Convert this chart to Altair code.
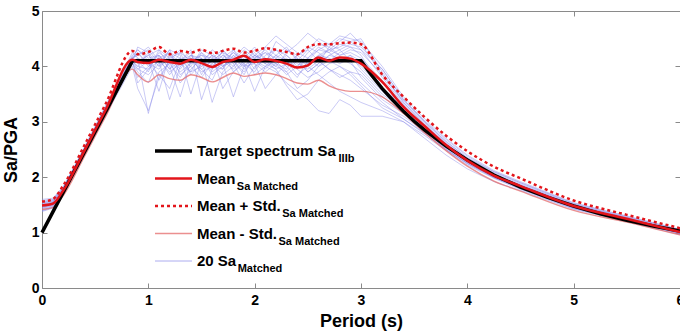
import altair as alt
import pandas as pd

# ---------------- data ----------------
periods = [0, 0.1, 0.2, 0.4, 0.6, 0.85, 0.9, 1.0, 1.1, 1.2, 1.3, 1.4, 1.5, 1.6, 1.7,
           1.8, 1.9, 2.0, 2.1, 2.2, 2.3, 2.4, 2.5, 2.6, 2.7, 2.8, 2.9, 3.0,
           3.2, 3.4, 3.6, 3.8, 4.0, 4.25, 4.5, 5.0, 5.5, 6.0]

target_periods = [0, 0.85, 3.0, 3.1, 3.2, 3.3, 3.4, 3.5, 3.6, 3.8, 4.0, 4.25, 4.5,
                  4.75, 5.0, 5.25, 5.5, 5.75, 6.0]
target_values = [1.0, 4.1, 4.1, 3.84, 3.60, 3.39, 3.19, 3.01, 2.85, 2.56, 2.31, 2.04,
                 1.82, 1.64, 1.48, 1.34, 1.22, 1.12, 1.03]

mean_values = [1.49, 1.52, 1.76, 2.48, 3.22, 4.12,
               4.08, 4.06, 4.12, 4.08, 4.05, 4.12, 4.06, 3.99, 4.08, 4.12, 4.19,
               4.08, 4.13, 4.10, 4.05, 3.98, 4.02, 4.16, 4.10, 4.16, 4.14, 4.05,
               3.72, 3.27, 2.92, 2.58, 2.30, 2.03, 1.84, 1.48, 1.25, 1.01]
plus_values = [1.56, 1.60, 1.85, 2.58, 3.33, 4.28,
               4.22, 4.26, 4.35, 4.22, 4.28, 4.25, 4.30, 4.24, 4.28, 4.32, 4.25,
               4.28, 4.33, 4.30, 4.26, 4.22, 4.35, 4.40, 4.40, 4.42, 4.43, 4.40,
               3.85, 3.45, 3.08, 2.75, 2.47, 2.19, 1.98, 1.58, 1.32, 1.08]
minus_values = [1.42, 1.45, 1.67, 2.38, 3.10, 3.95,
                3.85, 3.72, 3.85, 3.78, 3.75, 3.85, 3.80, 3.72, 3.80, 3.88, 3.82,
                3.85, 3.88, 3.85, 3.78, 3.70, 3.68, 3.75, 3.65, 3.58, 3.55, 3.55,
                3.45, 3.15, 2.80, 2.48, 2.20, 1.93, 1.75, 1.40, 1.19, 0.96]

run_01 = [1.45, 1.50, 1.72, 2.42, 3.15, 4.05, 3.90, 3.70, 4.20, 3.95, 4.10, 4.25, 3.85, 4.15, 4.30, 4.05, 4.20, 3.95, 4.35, 4.20, 4.00, 3.80, 4.10, 4.30, 4.25, 4.40, 4.35, 4.20, 3.60, 3.30, 2.85, 2.50, 2.25, 2.00, 1.80, 1.45, 1.22, 0.98]
run_02 = [1.55, 1.58, 1.80, 2.52, 3.28, 4.20, 4.30, 4.10, 3.55, 4.20, 4.05, 3.90, 4.25, 4.00, 3.95, 4.30, 4.10, 4.20, 4.05, 4.45, 4.30, 4.15, 3.90, 4.05, 4.35, 4.50, 4.45, 4.30, 3.95, 3.40, 3.00, 2.65, 2.35, 2.10, 1.90, 1.52, 1.28, 1.05]
run_03 = [1.40, 1.46, 1.70, 2.40, 3.12, 4.00, 3.60, 3.20, 3.80, 4.10, 3.90, 4.05, 4.15, 3.85, 4.00, 4.20, 3.95, 4.10, 4.00, 3.90, 3.70, 3.55, 3.40, 3.20, 3.15, 3.40, 3.30, 3.10, 3.10, 3.00, 2.70, 2.40, 2.15, 1.92, 1.76, 1.42, 1.20, 0.96]
run_04 = [1.50, 1.54, 1.78, 2.50, 3.25, 4.15, 4.20, 4.35, 4.10, 3.40, 4.00, 4.20, 3.95, 4.10, 4.25, 3.90, 4.05, 4.30, 4.15, 4.00, 4.25, 4.40, 4.60, 4.45, 4.30, 4.35, 4.45, 4.50, 3.90, 3.35, 2.95, 2.60, 2.30, 2.05, 1.86, 1.50, 1.27, 1.03]
run_05 = [1.60, 1.62, 1.82, 2.45, 3.20, 4.10, 4.00, 3.95, 4.25, 4.10, 3.70, 3.95, 4.15, 3.35, 3.90, 4.10, 4.20, 3.85, 4.00, 4.10, 4.15, 3.95, 3.80, 3.90, 4.05, 4.10, 4.20, 3.95, 3.55, 3.20, 2.88, 2.55, 2.28, 2.00, 1.82, 1.46, 1.24, 1.00]
run_06 = [1.38, 1.44, 1.68, 2.44, 3.18, 4.08, 4.35, 4.25, 4.00, 4.30, 4.20, 3.50, 4.10, 4.25, 4.00, 4.15, 4.35, 4.20, 4.10, 4.05, 3.95, 4.20, 4.35, 4.25, 4.10, 4.00, 3.90, 3.70, 3.35, 3.05, 2.80, 2.50, 2.25, 2.00, 1.80, 1.44, 1.22, 0.99]
run_07 = [1.52, 1.55, 1.79, 2.55, 3.30, 4.25, 4.15, 3.15, 3.90, 4.05, 4.15, 4.00, 3.80, 4.05, 4.20, 4.10, 3.90, 4.15, 4.30, 4.10, 3.90, 3.60, 3.75, 4.00, 4.20, 4.30, 4.10, 3.80, 3.40, 3.15, 2.85, 2.55, 2.28, 2.02, 1.84, 1.48, 1.25, 1.01]
run_08 = [1.47, 1.50, 1.74, 2.47, 3.21, 4.12, 4.05, 4.20, 4.30, 4.00, 3.45, 4.10, 4.20, 4.05, 3.85, 4.00, 4.25, 4.10, 3.95, 4.15, 4.30, 4.20, 4.05, 4.15, 4.30, 4.20, 4.30, 4.25, 3.85, 3.35, 2.98, 2.62, 2.33, 2.06, 1.86, 1.50, 1.26, 1.02]
run_09 = [1.43, 1.48, 1.72, 2.44, 3.17, 4.06, 3.80, 4.00, 4.15, 3.85, 4.10, 4.30, 3.40, 3.95, 4.10, 4.25, 4.05, 3.90, 4.20, 4.30, 4.10, 3.95, 4.15, 4.30, 4.40, 4.55, 4.50, 4.45, 4.00, 3.45, 3.05, 2.70, 2.40, 2.12, 1.92, 1.54, 1.30, 1.06]
run_10 = [1.56, 1.59, 1.81, 2.50, 3.24, 4.14, 4.25, 4.05, 3.95, 4.20, 4.00, 4.15, 4.05, 4.20, 3.60, 3.90, 4.10, 4.25, 4.05, 3.95, 4.05, 4.20, 4.30, 4.10, 3.95, 3.85, 3.75, 3.60, 3.30, 3.10, 2.82, 2.52, 2.26, 2.00, 1.80, 1.45, 1.23, 1.00]
run_11 = [1.41, 1.47, 1.71, 2.43, 3.16, 4.05, 3.95, 3.85, 4.05, 4.25, 4.15, 3.90, 4.00, 4.20, 4.05, 3.45, 4.00, 4.15, 4.25, 4.05, 3.85, 4.00, 4.25, 4.40, 4.35, 4.20, 4.25, 4.15, 3.75, 3.30, 2.92, 2.58, 2.30, 2.04, 1.84, 1.48, 1.25, 1.01]
run_12 = [1.53, 1.56, 1.78, 2.51, 3.26, 4.18, 4.30, 4.15, 4.20, 3.95, 4.25, 4.10, 3.95, 3.75, 4.15, 4.30, 4.00, 4.05, 3.60, 3.85, 4.05, 4.15, 4.00, 3.85, 3.70, 3.55, 3.45, 3.35, 3.20, 3.00, 2.75, 2.48, 2.22, 1.98, 1.78, 1.43, 1.21, 0.98]
run_13 = [1.48, 1.52, 1.75, 2.49, 3.23, 4.12, 4.10, 3.90, 4.30, 4.15, 3.95, 4.20, 4.10, 3.95, 4.30, 4.10, 3.85, 4.20, 4.35, 4.55, 4.40, 4.25, 4.15, 4.00, 4.10, 4.25, 4.35, 4.30, 3.80, 3.32, 2.95, 2.60, 2.32, 2.05, 1.85, 1.49, 1.26, 1.02]
run_14 = [1.44, 1.49, 1.73, 2.46, 3.19, 4.09, 4.00, 4.25, 3.75, 4.10, 4.30, 4.05, 4.25, 4.10, 3.95, 4.20, 4.05, 3.55, 4.00, 4.20, 4.35, 4.10, 3.90, 4.05, 4.20, 4.15, 4.05, 3.90, 3.50, 3.22, 2.88, 2.55, 2.28, 2.02, 1.82, 1.47, 1.24, 1.00]
run_15 = [1.58, 1.60, 1.83, 2.53, 3.27, 4.16, 4.20, 4.30, 4.05, 4.30, 3.85, 4.00, 4.30, 4.20, 4.10, 3.95, 4.15, 4.35, 4.10, 4.00, 3.90, 4.10, 4.30, 4.50, 4.40, 4.30, 4.40, 4.35, 3.95, 3.40, 3.02, 2.68, 2.38, 2.10, 1.90, 1.53, 1.29, 1.05]
run_16 = [1.46, 1.51, 1.74, 2.45, 3.20, 4.11, 3.70, 3.95, 4.10, 3.90, 4.05, 4.15, 3.90, 4.00, 4.20, 4.05, 3.70, 4.00, 4.10, 3.95, 3.65, 3.40, 3.50, 3.75, 3.90, 4.00, 3.85, 3.65, 3.25, 3.05, 2.78, 2.50, 2.24, 1.99, 1.79, 1.44, 1.22, 0.99]
run_17 = [1.51, 1.54, 1.77, 2.48, 3.22, 4.13, 4.10, 4.20, 4.00, 4.15, 4.25, 3.85, 4.05, 4.30, 4.15, 4.00, 4.20, 4.10, 4.25, 4.15, 4.00, 4.10, 4.05, 4.20, 4.30, 4.45, 4.60, 4.40, 3.85, 3.38, 3.00, 2.64, 2.35, 2.08, 1.88, 1.51, 1.27, 1.03]
run_18 = [1.39, 1.45, 1.69, 2.42, 3.16, 4.07, 4.15, 4.05, 3.85, 3.60, 4.10, 4.20, 4.15, 3.90, 4.05, 4.25, 4.10, 4.05, 3.90, 4.05, 4.20, 4.05, 3.95, 4.10, 3.95, 3.80, 3.90, 3.85, 3.45, 3.18, 2.86, 2.54, 2.27, 2.01, 1.81, 1.46, 1.23, 1.00]
run_19 = [1.54, 1.57, 1.80, 2.52, 3.25, 4.15, 4.25, 4.00, 4.15, 4.25, 4.05, 4.15, 4.00, 4.10, 4.25, 4.15, 4.00, 4.20, 4.10, 4.30, 4.20, 4.00, 4.15, 4.35, 4.25, 4.10, 4.20, 4.10, 3.70, 3.28, 2.93, 2.59, 2.31, 2.04, 1.84, 1.48, 1.25, 1.02]
run_20 = [1.49, 1.53, 1.76, 2.47, 3.21, 4.10, 3.95, 4.10, 4.20, 4.05, 3.80, 4.10, 4.20, 4.15, 4.00, 4.10, 4.30, 4.15, 4.05, 4.20, 4.10, 3.85, 4.00, 4.20, 4.15, 4.05, 4.15, 4.00, 3.60, 3.25, 2.90, 2.57, 2.29, 2.03, 1.83, 1.47, 1.24, 1.01]

runs = [run_01, run_02, run_03, run_04, run_05, run_06, run_07, run_08, run_09, run_10,
        run_11, run_12, run_13, run_14, run_15, run_16, run_17, run_18, run_19, run_20]

x_ticks = [0, 1, 2, 3, 4, 5, 6]
y_ticks = [0, 1, 2, 3, 4, 5]

legend_labels = ["Target spectrum Sa", "Mean", "Mean + Std.", "Mean - Std.", "20 Sa"]
legend_subs = ["IIIb", "Sa Matched", "Sa Matched", "Sa Matched", "Matched"]

for r in runs + [mean_values, plus_values, minus_values]:
    assert len(r) == len(periods), len(r)
assert len(target_periods) == len(target_values)

# ---------------- styling / layout ----------------
W, H = 638, 277
PAD_L, PAD_T = 42, 11
FONT = "Liberation Sans"
GRAY = "#8a8a8a"
RED = "#e3151b"
BLUE = "#8a8ae8"
INWARD = {"expr": "-5"}

xs = alt.Scale(domain=[0, 6], nice=False, zero=False)
ys = alt.Scale(domain=[0, 5], nice=False, zero=False)

blue_df = pd.DataFrame([{"run": i + 1, "T": t, "v": v}
                        for i, r in enumerate(runs) for t, v in zip(periods, r)])
stats_df = pd.DataFrame({"T": periods, "mean": mean_values,
                         "plus": plus_values, "minus": minus_values})
target_df = pd.DataFrame({"T": target_periods, "v": target_values})

x_bottom = alt.Axis(orient="bottom", values=x_ticks, format="d", tickSize=INWARD,
                    labelPadding=10, labelFlush=False, grid=False,
                    title="Period (s)", titleY=38, titleBaseline="alphabetic")
y_left = alt.Axis(orient="left", values=y_ticks, format="d", tickSize=INWARD,
                  labelPadding=8, grid=False, title="Sa/PGA",
                  titleX=-31, titleY=H / 2, titleBaseline="middle")
x_top = alt.Axis(orient="top", values=x_ticks, tickSize=INWARD, labels=False,
                 grid=False, title=None)
y_right = alt.Axis(orient="right", values=y_ticks, tickSize=INWARD, labels=False,
                   grid=False, title=None)

blue = alt.Chart(blue_df).mark_line(color=BLUE, strokeWidth=0.9, opacity=0.5).encode(
    x=alt.X("T:Q", scale=xs, axis=None),
    y=alt.Y("v:Q", scale=ys, axis=None),
    detail="run:N",
)
minus = alt.Chart(stats_df).mark_line(color="#e46a6a", strokeWidth=1.4, opacity=0.75,
                                      interpolate="monotone").encode(
    x=alt.X("T:Q", scale=xs, axis=None),
    y=alt.Y("minus:Q", scale=ys, axis=None),
)
target = alt.Chart(target_df).mark_line(color="black", strokeWidth=3.5).encode(
    x=alt.X("T:Q", scale=xs, axis=x_top),
    y=alt.Y("v:Q", scale=ys, axis=y_right),
)
mean = alt.Chart(stats_df).mark_line(color=RED, strokeWidth=2.5,
                                     interpolate="monotone").encode(
    x=alt.X("T:Q", scale=xs, axis=x_bottom),
    y=alt.Y("mean:Q", scale=ys, axis=y_left),
)
plus = alt.Chart(stats_df).mark_line(color=RED, strokeWidth=2.5, strokeDash=[3, 3],
                                     interpolate="monotone").encode(
    x=alt.X("T:Q", scale=xs, axis=None),
    y=alt.Y("plus:Q", scale=ys, axis=None),
)

# ---------------- hand-built legend (with subscripts) ----------------
CW = {" ": 278, "+": 584, "-": 333, ".": 278, "0": 556, "2": 556, "S": 667, "T": 611,
      "M": 833, "I": 278, "a": 556, "b": 611, "c": 556, "d": 611, "e": 556, "g": 611,
      "h": 611, "i": 278, "m": 889, "n": 611, "p": 611, "r": 389, "s": 556, "t": 333,
      "u": 611}


def text_w(s, size):
    return sum(CW.get(ch, 556) for ch in s) / 1000.0 * size


legend_styles = [
    dict(color="black", strokeWidth=3.5),
    dict(color=RED, strokeWidth=2.5),
    dict(color=RED, strokeWidth=2.5, strokeDash=[3, 3]),
    dict(color="#e46a6a", strokeWidth=1.4, opacity=0.75),
    dict(color=BLUE, strokeWidth=1.0, opacity=0.7),
]
# positions inside the plot area (relative to its top-left corner)
LX0, LX1, LTX = 155 - PAD_L, 192 - PAD_L, 197 - PAD_L
LY0, LDY = 151 - PAD_T, 27.5
MAIN_FS, SUB_FS = 15, 11

legend_layers = []
for i, (lab, sub) in enumerate(zip(legend_labels, legend_subs)):
    yrow = LY0 + i * LDY
    row_df = pd.DataFrame({"label": [lab], "sub": [sub]})
    legend_layers.append(
        alt.Chart(row_df).mark_rule(**legend_styles[i]).encode(
            x=alt.value(LX0), x2=alt.value(LX1), y=alt.value(yrow)))
    legend_layers.append(
        alt.Chart(row_df).mark_text(align="left", baseline="middle", font=FONT,
                                    fontWeight="bold", fontSize=MAIN_FS,
                                    color="black").encode(
            x=alt.value(LTX), y=alt.value(yrow), text="label:N"))
    legend_layers.append(
        alt.Chart(row_df).mark_text(align="left", baseline="middle", font=FONT,
                                    fontWeight="bold", fontSize=SUB_FS,
                                    color="black").encode(
            x=alt.value(LTX + text_w(lab, MAIN_FS) + 1.5), y=alt.value(yrow + 8),
            text="sub:N"))

chart = alt.layer(blue, minus, target, mean, plus, *legend_layers).properties(
    width=W, height=H,
    padding={"left": PAD_L, "top": PAD_T, "right": 0, "bottom": 47},
    autosize=alt.AutoSizeParams(type="none"),
    background="white",
).configure_view(stroke=None).configure_axis(
    domainColor=GRAY, tickColor=GRAY, domainWidth=1, tickWidth=1,
    labelFont=FONT, labelFontWeight="bold", labelFontSize=14, labelColor="black",
    titleFont=FONT, titleFontWeight="bold", titleFontSize=18, titleColor="black",
)

chart.save("out.html", embed_options={"renderer": "svg", "actions": False})
